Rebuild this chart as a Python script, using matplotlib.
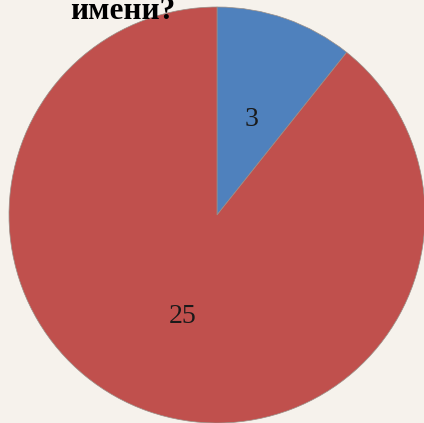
import matplotlib
matplotlib.use("Agg")
import matplotlib.pyplot as plt

values = [3, 25]
colors = ["#4f81bd", "#c0504d"]
title = "имени?"

fig = plt.figure(figsize=(4.24, 4.23), dpi=100)
fig.patch.set_facecolor("#f6f2ec")

ax = fig.add_axes([9 / 424, 0.0, 416 / 424, 416 / 423])
ax.set_facecolor("none")
wedges, texts, autotexts = ax.pie(
    values, colors=colors, startangle=90, counterclock=False,
    autopct=lambda p: "%d" % round(p * sum(values) / 100.0),
    pctdistance=0.5,
    wedgeprops=dict(edgecolor="#9a8f88", linewidth=0.5),
    textprops=dict(family="Liberation Serif", fontsize=20, color="#1a1a1a"),
)
for t in autotexts:
    t.set_va("center_baseline")
ax.set_xlim(-1, 1)
ax.set_ylim(-1, 1)
ax.set_aspect("equal")
ax.axis("off")

fig.text(123 / 424, 1 - 19 / 423, title, ha="center", va="baseline",
         family="Liberation Serif", fontweight="bold", fontsize=22.5, color="black")

fig.savefig("out.png", dpi=100, facecolor=fig.get_facecolor())
